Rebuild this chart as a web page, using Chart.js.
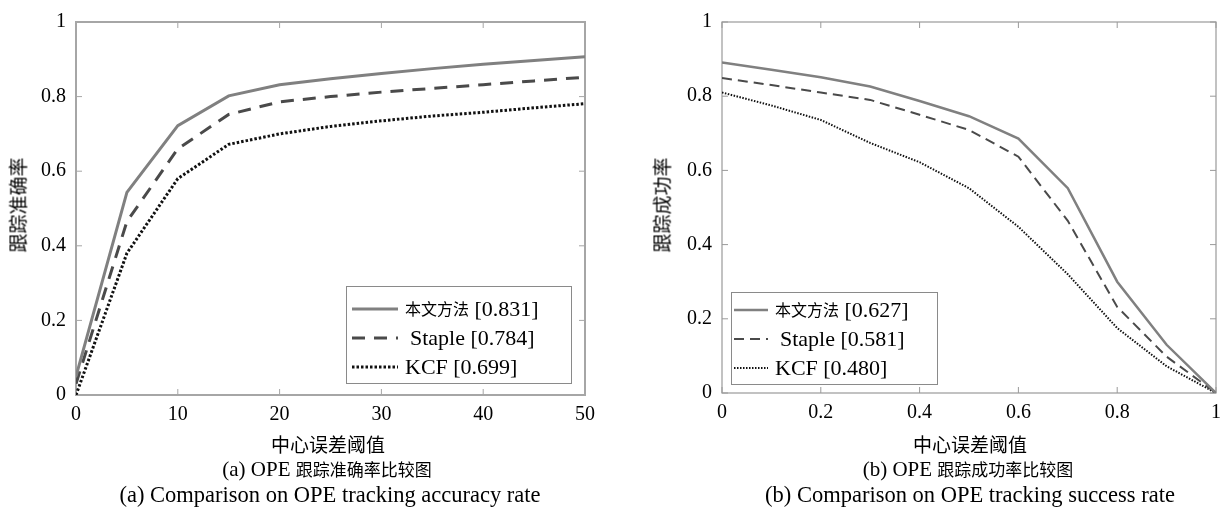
<!DOCTYPE html>
<html><head><meta charset="utf-8">
<script src="https://cdn.jsdelivr.net/npm/chart.js@4.4.1/dist/chart.umd.min.js"></script>
<style>
html,body{margin:0;padding:0;background:#fff}
body{width:1229px;height:513px;position:relative;overflow:hidden;font-family:"Liberation Serif","Noto Sans CJK SC",serif;color:#000}
.c{position:absolute;top:0;height:513px}
.t{position:absolute;white-space:nowrap;transform:translate(-50%,-50%);line-height:1}
.cjk{font-family:"Noto Sans CJK SC",sans-serif}
.rot{transform:translate(-50%,-50%) rotate(-90deg)}
</style></head><body>
<div class="c" style="left:0;width:610px"><canvas id="chartA"></canvas></div>
<div class="c" style="left:615px;width:614px"><canvas id="chartB"></canvas></div>

<div class="t rot cjk" style="left:17px;top:205px;font-size:19px">跟踪准确率</div>
<div class="t rot cjk" style="left:661px;top:205px;font-size:19px">跟踪成功率</div>
<div class="t cjk" style="left:328px;top:443px;font-size:19px">中心误差阈值</div>
<div class="t cjk" style="left:970px;top:443px;font-size:19px">中心误差阈值</div>
<div class="t" style="left:327px;top:469px;font-size:21px">(a) OPE <span class="cjk" style="font-size:17px">跟踪准确率比较图</span></div>
<div class="t" style="left:968px;top:469px;font-size:21px">(b) OPE <span class="cjk" style="font-size:17px">跟踪成功率比较图</span></div>
<div class="t" style="left:330px;top:495px;font-size:22.5px">(a) Comparison on OPE tracking accuracy rate</div>
<div class="t" style="left:970px;top:495px;font-size:22.5px">(b) Comparison on OPE tracking success rate</div>

<script>
// ---- data ----
const seriesNames = ['本文方法', 'Staple', 'KCF'];
const precisionScores = ['0.831', '0.784', '0.699'];
const successScores = ['0.627', '0.581', '0.480'];

const precisionThresholds = [0, 5, 10, 15, 20, 25, 30, 35, 40, 45, 50];
const precisionOurs   = [0.05, 0.543, 0.722, 0.802, 0.832, 0.848, 0.862, 0.875, 0.887, 0.897, 0.907];
const precisionStaple = [0.03, 0.465, 0.660, 0.752, 0.786, 0.800, 0.812, 0.822, 0.832, 0.842, 0.852];
const precisionKCF    = [0.00, 0.380, 0.580, 0.672, 0.700, 0.720, 0.735, 0.748, 0.758, 0.770, 0.781];

const successThresholds = [0, 0.1, 0.2, 0.3, 0.4, 0.5, 0.6, 0.7, 0.8, 0.9, 1.0];
const successOurs   = [0.891, 0.871, 0.851, 0.826, 0.787, 0.746, 0.686, 0.552, 0.300, 0.130, 0.0];
const successStaple = [0.849, 0.830, 0.810, 0.790, 0.750, 0.709, 0.637, 0.464, 0.232, 0.098, 0.0];
const successKCF    = [0.810, 0.775, 0.736, 0.674, 0.622, 0.552, 0.448, 0.320, 0.175, 0.072, 0.0];

const precisionXTicks = [0, 10, 20, 30, 40, 50];
const successXTicks = [0, 0.2, 0.4, 0.6, 0.8, 1];
const yTicks = [0, 0.2, 0.4, 0.6, 0.8, 1];

// ---- helpers ----
const pts = (xs, ys) => xs.map((x, i) => ({x: x, y: ys[i]}));
const CJK = /[\u3400-\u9fff]/;

const framePlugin = {
  id: 'frame',
  beforeDatasetsDraw(chart, args, o) {
    const {ctx, chartArea: {left, right, top, bottom}, scales: {x, y}} = chart;
    ctx.save();
    ctx.strokeStyle = o.color; ctx.lineWidth = o.width;
    ctx.strokeRect(left, top, right - left, bottom - top);
    ctx.beginPath();
    x.ticks.forEach(t => {
      const p = x.getPixelForValue(t.value);
      ctx.moveTo(p, bottom); ctx.lineTo(p, bottom - o.tick);
      ctx.moveTo(p, top); ctx.lineTo(p, top + o.tick);
    });
    y.ticks.forEach(t => {
      const p = y.getPixelForValue(t.value);
      ctx.moveTo(left, p); ctx.lineTo(left + o.tick, p);
      ctx.moveTo(right, p); ctx.lineTo(right - o.tick, p);
    });
    ctx.lineWidth = 1;
    ctx.stroke();
    ctx.restore();
  }
};

const boxLegend = {
  id: 'boxLegend',
  afterDraw(chart, args, o) {
    const {ctx} = chart;
    ctx.save();
    ctx.fillStyle = '#fff';
    ctx.fillRect(o.x, o.y, o.w, o.h);
    ctx.strokeStyle = '#8a8a8a'; ctx.lineWidth = 1;
    ctx.strokeRect(o.x + 0.5, o.y + 0.5, o.w, o.h);
    chart.data.datasets.forEach((d, i) => {
      const yy = o.y + o.first + i * o.step;
      ctx.strokeStyle = d.borderColor;
      ctx.lineWidth = o.lw[i];
      ctx.setLineDash(d.borderDash || []);
      ctx.beginPath(); ctx.moveTo(o.x + o.lx0, yy); ctx.lineTo(o.x + o.lx1, yy); ctx.stroke();
      ctx.setLineDash([]);
      ctx.fillStyle = '#000';
      ctx.textBaseline = 'middle';
      let tx = o.x + o.tx + (i === 1 ? 5 : 0);
      const runs = d.label.match(/[\u3400-\u9fff]+|[^\u3400-\u9fff]+/g);
      runs.forEach(r => {
        const isC = CJK.test(r);
        ctx.font = isC ? o.cjkFont : o.latinFont;
        ctx.fillText(r, tx, yy + (isC ? 0 : 1));
        tx += ctx.measureText(r).width;
      });
    });
    ctx.restore();
  }
};

function makeChart(id, xs, ys3, scores, xTicks, xMax, padLeft, padRight, top, bottomH, style, legend) {
  const datasets = ys3.map((ys, i) => ({
    label: seriesNames[i] + ' [' + scores[i] + ']',
    data: pts(xs, ys),
    borderColor: style.colors[i],
    borderWidth: style.widths[i],
    borderDash: style.dashes[i],
    pointRadius: 0,
    tension: 0,
    fill: false
  }));
  const tickFont = {family: "'Liberation Serif', serif", size: 20};
  const fmt = v => String(v);
  return new Chart(document.getElementById(id), {
    type: 'line',
    data: {datasets},
    plugins: [framePlugin, boxLegend],
    options: {
      responsive: true, maintainAspectRatio: false, animation: false,
      layout: {padding: {left: padLeft, right: padRight, top: top, bottom: 0}},
      plugins: {
        legend: {display: false}, tooltip: {enabled: false},
        frame: {color: style.frame, width: style.frameW, tick: 6},
        boxLegend: legend
      },
      scales: {
        x: {
          type: 'linear', min: 0, max: xMax,
          grid: {display: false, drawTicks: false}, border: {display: false},
          ticks: {font: tickFont, color: '#000', padding: 8, maxRotation: 0, autoSkip: false, callback: fmt},
          afterBuildTicks: s => { s.ticks = xTicks.map(v => ({value: v})); },
          afterFit: s => { s.height = bottomH; }
        },
        y: {
          type: 'linear', min: 0, max: 1,
          grid: {display: false, drawTicks: false}, border: {display: false},
          ticks: {font: tickFont, color: '#000', padding: 10, callback: fmt},
          afterBuildTicks: s => { s.ticks = yTicks.map(v => ({value: v})); },
          afterFit: s => { s.width = 76; }
        }
      }
    }
  });
}

makeChart('chartA', precisionThresholds, [precisionOurs, precisionStaple, precisionKCF], precisionScores,
  precisionXTicks, 50, 0, 25, 11, 118,
  {colors: ['#808080', '#4a4a4a', '#111111'], widths: [3, 3, 3], dashes: [[], [13, 9], [2.5, 2]], frame: '#a6a6a6', frameW: 2},
  {x: 346, y: 286, w: 225, h: 97, first: 23, step: 29, lx0: 6, lx1: 52, tx: 59, lw: [3, 3, 3],
   latinFont: "22px 'Liberation Serif'", cjkFont: "16px 'Noto Sans CJK SC'"});

makeChart('chartB', successThresholds, [successOurs, successStaple, successKCF], successScores,
  successXTicks, 1, 31, 9, 13, 120,
  {colors: ['#808080', '#4a4a4a', '#111111'], widths: [2.5, 2, 2], dashes: [[], [10, 6], [1.5, 1.5]], frame: '#9a9a9a', frameW: 1.2},
  {x: 116, y: 292, w: 206, h: 92, first: 18, step: 29, lx0: 3, lx1: 37, tx: 44, lw: [2.5, 2, 2],
   latinFont: "22px 'Liberation Serif'", cjkFont: "16px 'Noto Sans CJK SC'"});
</script>
</body></html>
